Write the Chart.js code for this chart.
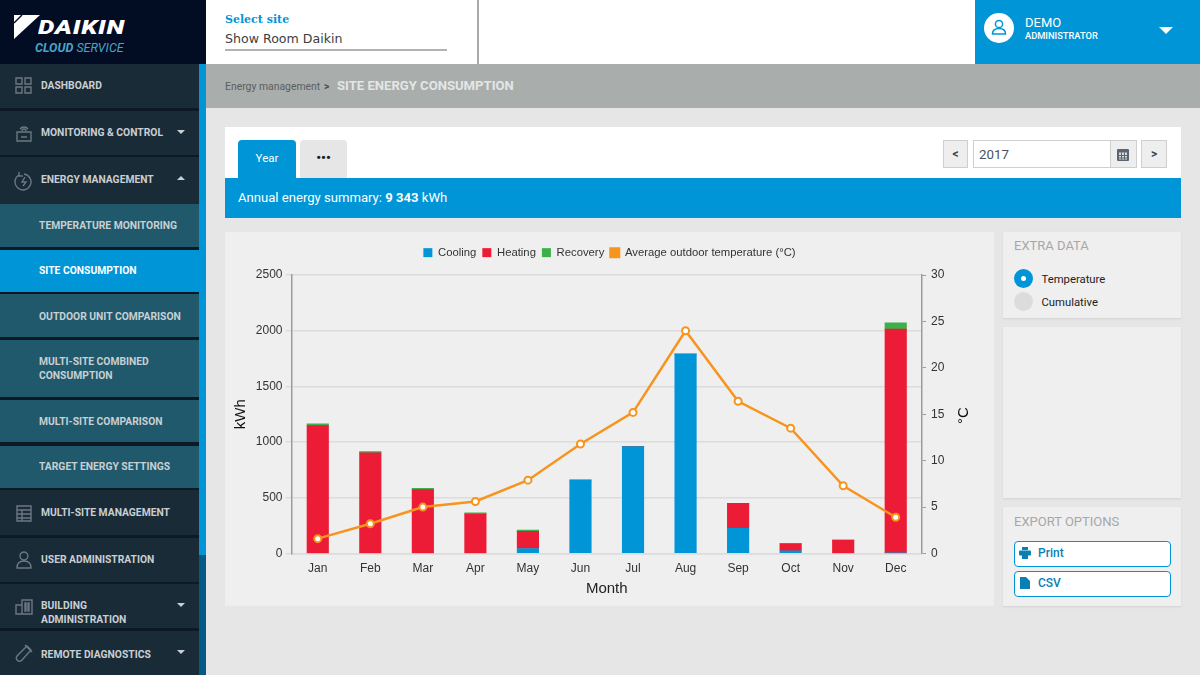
<!DOCTYPE html>
<html>
<head>
<meta charset="utf-8">
<title>Site energy consumption</title>
<script src="https://cdn.jsdelivr.net/npm/chart.js@4/dist/chart.umd.min.js"></script>
<style>
html,body{margin:0;padding:0;width:1200px;height:675px;overflow:hidden;background:#e6e6e6;font-family:Roboto,sans-serif}
.box{position:absolute;box-sizing:border-box}
.t{position:absolute;white-space:nowrap}
.nav{position:absolute;left:0;width:199px;box-sizing:border-box;color:#c9cfd2;font-weight:700;font-size:10.300px;line-height:14.500px;display:flex;align-items:center}
.top{background:#1a2b38;padding-left:41px}
.sub{background:#20596c;padding-left:39px}
.sub.on{background:#0095d6;color:#fff}
.nav svg.ic{position:absolute;left:14px;top:50%;margin-top:-10px;width:20px;height:20px;fill:none;stroke:#6c7780;stroke-width:1.400}
.arr{position:absolute;left:177px;width:0;height:0;border-left:4px solid transparent;border-right:4px solid transparent}
.arr.d{border-top:4px solid #c9cfd2}
.arr.u{border-bottom:4px solid #c9cfd2}
.panel{position:absolute;background:#f0efef;box-sizing:border-box}
.side{box-shadow:0 1px 2px #d2d2d2}
.btn{position:absolute;left:1014px;width:157px;height:26px;box-sizing:border-box;border:1.500px solid #0095d6;border-radius:4px;background:#fff;color:#0a7fb6;font-size:12px;font-weight:500;line-height:23px;padding-left:23px}
.sq{position:absolute;background:#eeeeee;border:1.500px solid #cfcfcf;box-sizing:border-box;text-align:center;font-weight:700;font-size:12px;color:#3c4650}
</style>
</head>
<body>
<!-- sidebar -->
<div class="box" style="left:0;top:0;width:206px;height:64px;background:#020c22"></div>
<svg class="box" style="left:14px;top:14px" width="28" height="26"><polygon points="0,1 26,1 0,25" fill="#fff"/><line x1="8" y1="1" x2="0" y2="9" stroke="#020c22" stroke-width="1.500"/></svg>
<div class="t" style="left:38px;top:15px;color:#fff;font:italic 900 20px/24px Roboto,sans-serif;letter-spacing:.6px;transform-origin:left top;transform:scaleX(1.300)">DAIKIN</div>
<div class="t" style="left:35px;top:40px;color:#4aa3c9;font:italic 700 12.500px/15px Roboto,sans-serif">CLOUD <span style="font-weight:400">SERVICE</span></div>
<div class="box" style="left:0;top:64px;width:199px;height:611px;background:#0d1a26"></div>
<div class="box" style="left:199px;top:64px;width:7px;height:491px;background:#0095d6"></div>
<div class="box" style="left:199px;top:555px;width:7px;height:120px;background:#045a86"></div>
<div id="nav"></div>

<!-- header -->
<div class="box" style="left:206px;top:0;width:769px;height:64px;background:#fff"></div>
<div class="box" style="left:477px;top:0;width:1.500px;height:64px;background:#a9a9a9"></div>
<div class="t" style="left:225px;top:13px;color:#0095d6;font:700 11px/14px 'DejaVu Serif',serif">Select site</div>
<div class="t" style="left:225px;top:30px;color:#3d3d3d;font:12.600px/17px 'DejaVu Sans',sans-serif">Show Room Daikin</div>
<div class="box" style="left:225px;top:49px;width:222px;height:2px;background:#b3b3b3"></div>
<div class="box" style="left:975px;top:0;width:225px;height:64px;background:#0095d6"></div>
<div class="box" style="left:984px;top:13px;width:30px;height:30px;border-radius:50%;background:#fff"></div>
<svg class="box" style="left:990px;top:18px" width="18" height="20" fill="none" stroke="#0095d6" stroke-width="1.500"><circle cx="9" cy="6" r="3.600"/><path d="M2.500 16c0-4 3-5.500 6.500-5.500s6.500 1.500 6.500 5.500z"/></svg>
<div class="t" style="left:1025px;top:15px;color:#fff;font:13px/15px Roboto,sans-serif">DEMO</div>
<div class="t" style="left:1025px;top:29px;color:#fff;font:500 9.300px/13px Roboto,sans-serif">ADMINISTRATOR</div>
<div class="box" style="left:1159px;top:27px;width:0;height:0;border-left:7px solid transparent;border-right:7px solid transparent;border-top:7px solid #fff"></div>

<!-- breadcrumb -->
<div class="box" style="left:206px;top:64px;width:994px;height:44px;background:#a9adac"></div>
<div class="t" style="left:225px;top:80px;color:#5a5f60;font:10.400px/14px Roboto,sans-serif">Energy management</div>
<div class="t" style="left:324px;top:80px;color:#4a4f50;font:700 10.500px/14px Roboto,sans-serif">&gt;</div>
<div class="t" style="left:337px;top:78px;color:#e4e6e5;font:700 13.100px/16px Roboto,sans-serif">SITE ENERGY CONSUMPTION</div>

<!-- tabs and summary -->
<div class="box" style="left:225px;top:127px;width:956px;height:51px;background:#fff"></div>
<div class="box" style="left:238px;top:140px;width:58px;height:38px;background:#0095d6;border-radius:4px 4px 0 0;color:#fff;font-size:11.500px;line-height:37px;text-align:center">Year</div>
<div class="box" style="left:300px;top:140px;width:47px;height:38px;background:#e6e6e6;border-radius:4px 4px 0 0;color:#222;font-size:13px;font-weight:900;line-height:35px;text-align:center">&bull;&bull;&bull;</div>
<div class="sq" style="left:943px;top:140px;width:25px;height:28px;line-height:26px">&lt;</div>
<div class="box" style="left:973px;top:140px;width:164px;height:28px;background:#fff;border:1.500px solid #cfcfcf"></div>
<div class="t" style="left:979px;top:147px;color:#47525c;font:13.300px/16px Roboto,sans-serif">2017</div>
<div class="sq" style="left:1110px;top:140px;width:27px;height:28px"></div>
<svg class="box" style="left:1116px;top:147px" width="14" height="15" fill="#5a6570"><rect x="1" y="2" width="12" height="12" rx="1"/><rect x="3" y="5.500" width="8" height="7" fill="#d8dcdf"/><rect x="5" y="5.500" width="1" height="7"/><rect x="8" y="5.500" width="1" height="7"/><rect x="3" y="8" width="8" height="1"/><rect x="3" y="10.500" width="8" height="1"/></svg>
<div class="sq" style="left:1141px;top:140px;width:26px;height:28px;line-height:26px">&gt;</div>
<div class="box" style="left:225px;top:178px;width:956px;height:40px;background:#0095d6"></div>
<div class="t" style="left:238px;top:190px;color:#fff;font:13.100px/16px Roboto,sans-serif">Annual energy summary: <b>9 343</b> kWh</div>

<!-- chart -->
<div class="panel" style="left:225px;top:232px;width:769px;height:374px">
  <canvas id="chart" width="769" height="374" style="width:769px;height:374px;display:block"></canvas>
</div>
<div class="t" style="left:962px;top:411px;transform-origin:left top;color:#111;font:15px/15px 'Liberation Sans',Arial,sans-serif;transform:rotate(-90deg) translate(-13px,-7px)">°C</div>

<!-- side panels -->
<div class="panel side" style="left:1003px;top:232px;width:178px;height:86px"></div>
<div class="t" style="left:1014px;top:238px;color:#a5a8aa;font:13px/16px Roboto,sans-serif">EXTRA DATA</div>
<div class="box" style="left:1014px;top:269px;width:19px;height:19px;border-radius:50%;background:#0095d6"></div>
<div class="box" style="left:1021px;top:276px;width:5px;height:5px;border-radius:50%;background:#fff"></div>
<div class="t" style="left:1041.500px;top:272px;color:#222;font:11.300px/15px Roboto,sans-serif">Temperature</div>
<div class="box" style="left:1014px;top:292px;width:19px;height:19px;border-radius:50%;background:#dcdcdc"></div>
<div class="t" style="left:1041.500px;top:295px;color:#222;font:11.300px/15px Roboto,sans-serif">Cumulative</div>
<div class="panel side" style="left:1003px;top:327px;width:178px;height:171px"></div>
<div class="panel side" style="left:1003px;top:507px;width:178px;height:99px"></div>
<div class="t" style="left:1014px;top:514px;color:#a5a8aa;font:13px/16px Roboto,sans-serif">EXPORT OPTIONS</div>
<div class="btn" style="top:541px">Print</div>
<div class="btn" style="top:571px">CSV</div>
<svg class="box" style="left:1019px;top:547px" width="12" height="12" fill="#0a7fb6"><rect x="3" y="0" width="6" height="3"/><rect x="0" y="3.500" width="12" height="5" rx="1"/><rect x="3" y="7" width="6" height="5"/></svg>
<svg class="box" style="left:1020px;top:577px" width="10" height="12" fill="#0a7fb6"><path d="M0 0h6l4 4v8H0z"/></svg>

<script>
const months = ["Jan","Feb","Mar","Apr","May","Jun","Jul","Aug","Sep","Oct","Nov","Dec"];
const cooling = [0,0,0,0,45,660,960,1790,225,25,0,5];
const heating = [1148,903,573,353,153,0,0,0,225,65,120,2010];
const recovery = [17,12,12,12,12,0,0,0,0,0,0,55];
const temperature = [1.6,3.2,5,5.6,7.9,11.8,15.2,24,16.4,13.5,7.3,3.9];

// text, top, height, class, icon path, arrow, text nudge
const navItems = [
  ["DASHBOARD",64,44,"top","M2 2h6v6H2zM11 2h6v6h-6zM2 11h6v6H2zM11 11h6v6h-6z","",1],
  ["MONITORING &amp; CONTROL",111,44,"top","M3 9h14v9H3zM6 6a5 5 0 0 1 8 0M8 8a2 2 0 0 1 4 0M7 14h6","d",1],
  ["ENERGY MANAGEMENT",157,47,"top","M5 4a8 8 0 1 0 5-1M5 1v4h4M11 6l-3 5h4l-3 4","u",0],
  ["TEMPERATURE MONITORING",204,43,"sub","","",2],
  ["SITE CONSUMPTION",250,42,"sub on","","",1],
  ["OUTDOOR UNIT COMPARISON",294,43,"sub","","",3],
  ["MULTI-SITE COMBINED<br>CONSUMPTION",340,57,"sub","","",1],
  ["MULTI-SITE COMPARISON",400,42,"sub","","",2],
  ["TARGET ENERGY SETTINGS",446,42,"sub","","",1],
  ["MULTI-SITE MANAGEMENT",490,45,"top","M3 3h14v15H3zM3 7h14M3 11h14M3 15h14M8 7v11","",2],
  ["USER ADMINISTRATION",538,44,"top","M10 2a4 4 0 1 1-.1 0zM3 18c0-5 3-7 7-7s7 2 7 7z","",1],
  ["BUILDING<br>ADMINISTRATION",584,44,"top","M2 9h6v9H2zM8 4h10v14H8zM11 7h1v8h-1zM14 7h1v8h-1z","d",14],
  ["REMOTE DIAGNOSTICS",631,44,"top","M13 3l4 4-9 10a3 3 0 0 1-5-4zM11 2l7 7","d",5]
];
const nav = document.getElementById("nav");
navItems.forEach(n => {
  const d = document.createElement("div");
  d.className = "nav " + n[3];
  d.style.top = n[1] + "px";
  d.style.height = n[2] + "px";
  d.style.paddingTop = n[6] + "px";
  d.innerHTML = n[0];
  if (n[4]) d.innerHTML += `<svg class="ic" viewBox="0 0 20 20"><path d="${n[4]}"/></svg>`;
  if (n[5]) d.innerHTML += `<span class="arr ${n[5]}" style="top:19px"></span>`;
  nav.appendChild(d);
});

Chart.defaults.font.family = "'Liberation Sans', Arial, sans-serif";
Chart.defaults.font.size = 12;
Chart.defaults.color = "#333";

// adds room under the legend without widening the gaps between its items
const legendGap = {
  id: "legendGap",
  beforeInit(chart) {
    const fit = chart.legend.fit;
    chart.legend.fit = function () {
      fit.call(this);
      this.height = 34;
    };
  }
};

new Chart(document.getElementById("chart"), {
  type: "bar",
  plugins: [legendGap],
  data: {
    labels: months,
    datasets: [
      { label: "Cooling", data: cooling, backgroundColor: "#0095d6", yAxisID: "y", order: 2, barThickness: 21.500 },
      { label: "Heating", data: heating, backgroundColor: "#ed1c36", yAxisID: "y", order: 2, barThickness: 21.500 },
      { label: "Recovery", data: recovery, backgroundColor: "#3cb04a", yAxisID: "y", order: 2, barThickness: 21.500 },
      { type: "line", label: "Average outdoor temperature (°C)", data: temperature, yAxisID: "y1", order: 1,
        borderColor: "#f7941d", backgroundColor: "#f7941d", borderWidth: 2.500,
        pointRadius: 3.500, pointBorderWidth: 2, pointBackgroundColor: "#fff", pointBorderColor: "#f7941d",
        tension: 0 }
    ]
  },
  options: {
    responsive: false,
    animation: false,
    layout: { padding: { top: 9 } },
    plugins: {
      tooltip: { enabled: false },
      legend: {
        position: "top",
        labels: {
          usePointStyle: true, pointStyle: "rect", boxWidth: 9, boxHeight: 9, padding: 6, color: "#333", font: { size: 11.300 },
          sort: (a, b) => a.datasetIndex - b.datasetIndex,
          generateLabels(chart) {
            return Chart.defaults.plugins.legend.labels.generateLabels(chart).map(l => {
              l.fillStyle = chart.data.datasets[l.datasetIndex].backgroundColor;
              l.strokeStyle = l.fillStyle;
              return l;
            });
          }
        }
      }
    },
    scales: {
      x: {
        stacked: true,
        grid: { display: false },
        border: { color: "#dcdcdc", width: 1.500 },
        ticks: { color: "#333", padding: 0, maxRotation: 0 },
        title: { display: true, text: "Month", color: "#222", font: { size: 15 }, padding: { top: 3, bottom: 8 } },
        afterFit: s => { s.height = 52.500; }
      },
      y: {
        stacked: true,
        min: 0, max: 2500,
        ticks: { stepSize: 500, color: "#333", padding: 3, format: { useGrouping: false } },
        grid: { color: "#dcdcdc", lineWidth: 1.500, tickLength: 6 },
        border: { color: "#9b9b9b", width: 1.500 },
        title: { display: true, text: "kWh", color: "#111", font: { size: 15 }, padding: { top: 7, bottom: 0 } },
        afterFit: s => { s.width = 66.500; }
      },
      y1: {
        position: "right",
        min: 0, max: 30,
        ticks: { stepSize: 5, color: "#333", padding: 5 },
        grid: { drawOnChartArea: false, color: "#9b9b9b", tickLength: 4 },
        border: { color: "#9b9b9b", width: 1.500 },
        afterFit: s => { s.width = 72; }
      }
    }
  }
});
</script>
</body>
</html>
